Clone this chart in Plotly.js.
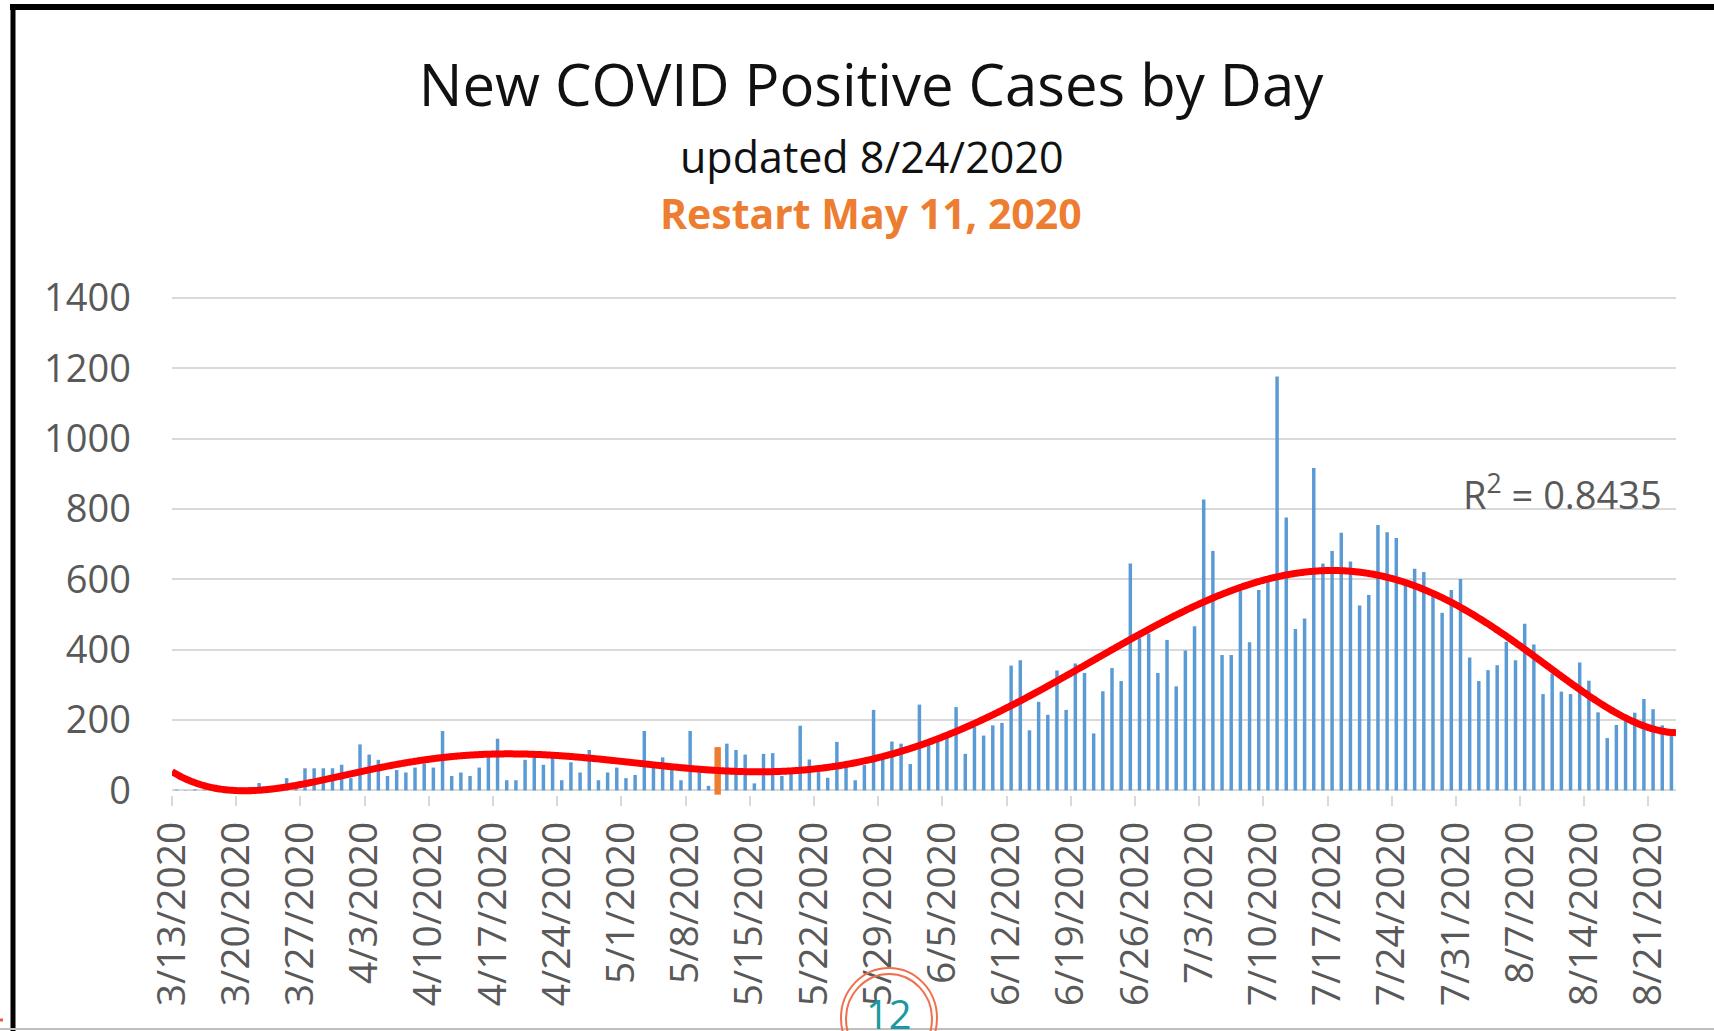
<!DOCTYPE html>
<html>
<head>
<meta charset="utf-8">
<script src="https://cdn.plot.ly/plotly-3.0.1.min.js"></script>
<style>
  html, body { margin: 0; padding: 0; background: #ffffff; }
  #chart { width: 1714px; height: 1031px; }
</style>
</head>
<body>
<div id="chart"></div>
<script>
// ---------------- DATA ----------------
const startDate = '2020-03-13';
// New positive cases per day, 3/13/2020 .. 8/23/2020
const cases = [
  2, 1, 3, 2, 5, 4, 6, 8, 10, 21,
  12, 15, 35, 22, 63, 63, 63, 63, 73, 35,
  131, 102, 87, 41, 58, 51, 65, 77, 65, 169,
  41, 51, 41, 65, 94, 147, 29, 29, 87, 98,
  73, 94, 29, 80, 51, 115, 29, 51, 65, 35,
  44, 169, 65, 94, 58, 29, 169, 51, 13, 123,
  133, 115, 102, 20, 104, 106, 41, 51, 184, 88,
  52, 36, 138, 67, 29, 72, 229, 91, 139, 133,
  75, 244, 130, 139, 154, 237, 104, 181, 156, 185,
  192, 355, 370, 171, 252, 215, 341, 229, 361, 334,
  162, 282, 348, 311, 645, 433, 446, 334, 428, 296,
  398, 467, 827, 681, 385, 385, 568, 421, 570, 592,
  1177, 776, 459, 489, 917, 645, 681, 733, 651, 526,
  556, 755, 734, 718, 582, 630, 621, 553, 505, 570,
  601, 378, 311, 342, 356, 423, 370, 474, 415, 274,
  332, 281, 274, 364, 312, 222, 149, 186, 197, 221,
  260, 231, 185, 164
];
const restartDates = ['2020-05-11'];
const restartValues = [123];

const tickLabels = [
  '3/13/2020', '3/20/2020', '3/27/2020', '4/3/2020', '4/10/2020', '4/17/2020',
  '4/24/2020', '5/1/2020', '5/8/2020', '5/15/2020', '5/22/2020', '5/29/2020',
  '6/5/2020', '6/12/2020', '6/19/2020', '6/26/2020', '7/3/2020', '7/10/2020',
  '7/17/2020', '7/24/2020', '7/31/2020', '8/7/2020', '8/14/2020', '8/21/2020'
];
const yTicks = [0, 200, 400, 600, 800, 1000, 1200, 1400];

const titleText = 'New COVID Positive Cases by Day';
const updatedText = 'updated 8/24/2020';
const restartText = 'Restart May 11, 2020';
const r2Text = 'R<sup>2</sup> = 0.8435';
const pageNumber = '12';

// ---------------- HELPERS ----------------
const DAY = 86400000;
function pad(n) { return (n < 10 ? '0' : '') + n; }
function fmt(ms) {
  const d = new Date(ms);
  return d.getUTCFullYear() + '-' + pad(d.getUTCMonth() + 1) + '-' + pad(d.getUTCDate()) +
    ' ' + pad(d.getUTCHours()) + ':' + pad(d.getUTCMinutes()) + ':' + pad(d.getUTCSeconds());
}
const startMs = Date.parse(startDate + 'T00:00:00Z');
const dates = cases.map((_, i) => fmt(startMs + i * DAY).slice(0, 10));
const axisEnd = fmt(startMs + cases.length * DAY).slice(0, 10);

function labelToDate(s) {
  const [m, d, y] = s.split('/').map(Number);
  return y + '-' + pad(m) + '-' + pad(d);
}
const tickVals = tickLabels.map(labelToDate);

// Polynomial (order 6) trendline: least squares on the data, like the chart's trendline
function polyfit(xs, ys, deg) {
  const n = deg + 1;
  const A = Array.from({ length: n }, () => new Array(n + 1).fill(0));
  for (let k = 0; k < xs.length; k++) {
    const pw = [1];
    for (let p = 1; p < 2 * n; p++) pw.push(pw[p - 1] * xs[k]);
    for (let r = 0; r < n; r++) {
      for (let c = 0; c < n; c++) A[r][c] += pw[r + c];
      A[r][n] += ys[k] * pw[r];
    }
  }
  for (let c = 0; c < n; c++) {
    let piv = c;
    for (let r = c + 1; r < n; r++) if (Math.abs(A[r][c]) > Math.abs(A[piv][c])) piv = r;
    [A[c], A[piv]] = [A[piv], A[c]];
    for (let r = 0; r < n; r++) {
      if (r === c) continue;
      const f = A[r][c] / A[c][c];
      for (let k = c; k <= n; k++) A[r][k] -= f * A[c][k];
    }
  }
  return A.map((row, i) => row[n] / row[i]);
}
const mid = (cases.length - 1) / 2;
const norm = i => (i - mid) / mid;
const coef = polyfit(cases.map((_, i) => norm(i)), cases, 6);
const evalPoly = u => coef.reduce((s, c, p) => s + c * Math.pow(u, p), 0);
const trendX = [], trendY = [];
for (let t = -0.5; t <= cases.length - 0.5 + 1e-9; t += 0.25) {
  trendX.push(fmt(startMs + (t + 0.5) * DAY));
  trendY.push(evalPoly(norm(t)));
}

// ---------------- LAYOUT GEOMETRY ----------------
const W = 1714, H = 1031;
const L = 172, R = 1676, T = 297, B = 795;
const px = x => (x - L) / (R - L);
const py = y => (B - y) / (B - T);

const FONT = 'Open Sans, Liberation Sans, sans-serif';
const GRAY = '#595959';
const GRID = '#D9D9D9';

const traces = [
  {
    type: 'bar',
    x: dates,
    y: cases,
    xperiod: DAY,
    xperiodalignment: 'middle',
    width: 0.38 * DAY,
    marker: { color: '#5B9BD5', line: { width: 0 } },
    hoverinfo: 'x+y'
  },
  {
    type: 'bar',
    x: restartDates,
    y: restartValues.map(v => v + 12),
    base: [-12],
    xperiod: DAY,
    xperiodalignment: 'middle',
    width: 0.7 * DAY,
    marker: { color: '#ED7D31', line: { width: 0 } },
    hoverinfo: 'x'
  },
  {
    type: 'scatter',
    mode: 'lines',
    x: trendX,
    y: trendY,
    line: { color: '#FF0000', width: 7, shape: 'spline' },
    hoverinfo: 'skip'
  }
];

const layout = {
  width: W,
  height: H,
  margin: { l: L, r: W - R, t: T, b: H - B, pad: 0 },
  paper_bgcolor: '#ffffff',
  plot_bgcolor: '#ffffff',
  showlegend: false,
  barmode: 'overlay',
  font: { family: FONT, color: GRAY },
  title: {
    text: titleText,
    font: { family: FONT, size: 58, color: '#111111' },
    xref: 'container', x: 871 / W, xanchor: 'center',
    yref: 'container', y: 1 - 86 / H, yanchor: 'middle'
  },
  xaxis: {
    type: 'date',
    range: [startDate, axisEnd],
    tickmode: 'array',
    tickvals: tickVals,
    ticktext: tickLabels,
    tickangle: -90,
    ticks: 'outside',
    ticklen: 10,
    tickwidth: 2,
    tickcolor: GRID,
    ticklabelstandoff: 0,
    tickfont: { family: FONT, size: 39, color: GRAY },
    showgrid: false,
    showline: false,
    zeroline: false,
    fixedrange: true
  },
  yaxis: {
    range: [-13, 1403],
    tickmode: 'array',
    tickvals: yTicks,
    ticktext: yTicks.map(String),
    ticks: '',
    ticklabelstandoff: 40,
    tickfont: { family: FONT, size: 38, color: GRAY },
    showgrid: true,
    gridcolor: GRID,
    gridwidth: 2,
    zeroline: true,
    zerolinecolor: GRID,
    zerolinewidth: 2,
    showline: false,
    fixedrange: true
  },
  annotations: [
    {
      text: updatedText, xref: 'paper', yref: 'paper',
      x: px(871), y: py(156), xanchor: 'center', yanchor: 'middle', showarrow: false,
      font: { family: FONT, size: 43, color: '#111111' }
    },
    {
      text: '<b>' + restartText + '</b>', xref: 'paper', yref: 'paper',
      x: px(871), y: py(213), xanchor: 'center', yanchor: 'middle', showarrow: false,
      font: { family: FONT, size: 41, color: '#ED7D31' }
    },
    {
      text: r2Text, xref: 'paper', yref: 'paper',
      x: px(1664), y: py(492), xanchor: 'right', yanchor: 'middle', showarrow: false,
      font: { family: FONT, size: 38, color: GRAY }
    },
    {
      text: pageNumber, xref: 'paper', yref: 'paper',
      x: px(889), y: py(1013), xanchor: 'center', yanchor: 'middle', showarrow: false,
      font: { family: FONT, size: 40, color: '#1A9AA0' }
    }
  ],
  shapes: [
    // chart frame
    { type: 'line', xref: 'paper', yref: 'paper', x0: px(10), x1: px(1714), y0: py(7), y1: py(7),
      line: { color: '#000000', width: 6 } },
    { type: 'line', xref: 'paper', yref: 'paper', x0: px(13), x1: px(13), y0: py(4), y1: py(1031),
      line: { color: '#000000', width: 5 } },
    { type: 'line', xref: 'paper', yref: 'paper', x0: px(0), x1: px(1714), y0: py(1029), y1: py(1029),
      line: { color: '#BFBFBF', width: 2 } },
    { type: 'line', xref: 'paper', yref: 'paper', x0: px(0), x1: px(3), y0: py(1020), y1: py(1020),
      line: { color: '#E8603C', width: 3 } },
    // page number badge
    { type: 'circle', xref: 'paper', yref: 'paper', x0: px(889 - 48), x1: px(889 + 48), y0: py(968), y1: py(1068),
      line: { color: '#F0704E', width: 2 } },
    { type: 'circle', xref: 'paper', yref: 'paper', x0: px(889 - 43), x1: px(889 + 43), y0: py(974), y1: py(1064),
      line: { color: '#F0704E', width: 2 } }
  ]
};

Plotly.newPlot('chart', traces, layout, { displayModeBar: false, staticPlot: true });
</script>
</body>
</html>
